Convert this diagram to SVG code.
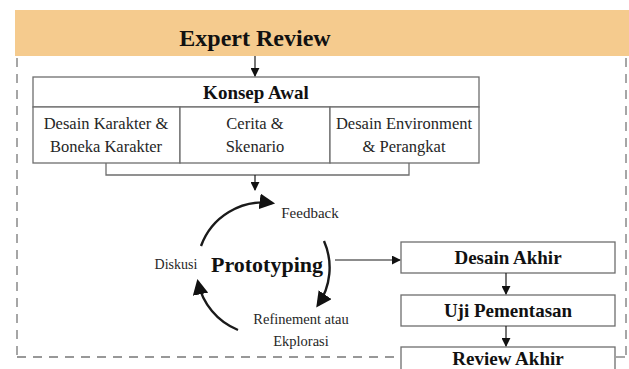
<svg xmlns="http://www.w3.org/2000/svg" width="629" height="369" viewBox="0 0 629 369">
<defs>
<style>
.box{fill:#fff;stroke:#6e6e6e;stroke-width:1.3}
.ln{fill:none;stroke:#1a1a1a;stroke-width:1.2}
.gl{fill:none;stroke:#6e6e6e;stroke-width:1.3}
.arc{fill:none;stroke:#1a1a1a;stroke-width:2.4}
.dash{fill:none;stroke:#777;stroke-width:1.3;stroke-dasharray:9 7}
.t{font-family:"Liberation Serif","Times New Roman",serif;fill:#262626;text-anchor:middle}
.b{font-weight:bold;fill:#111}
</style>
<marker id="ah" viewBox="0 0 10 10" refX="9" refY="5" markerWidth="9" markerHeight="9" markerUnits="userSpaceOnUse" orient="auto">
<path d="M0,0 L10,5 L0,10 Z" fill="#111"/>
</marker>
<marker id="ah2" viewBox="0 0 10 10" refX="8" refY="5" markerWidth="6.5" markerHeight="6.5" orient="auto">
<path d="M0,0 L10,5 L0,10 Z" fill="#111"/>
</marker>
</defs>

<g id="frame">
<rect x="15" y="10" width="614" height="46" fill="#F5CB8E"/>
<path class="dash" d="M17,58 V357"/>
<path class="dash" d="M626,58 V357"/>
<path class="dash" d="M17,357 H400"/>
<path class="dash" d="M616,357 H626"/>
</g>

<g id="expert-review">
<text class="t b" x="255" y="46" font-size="24">Expert Review</text>
</g>

<g id="konsep-awal">
<rect class="box" x="33" y="77" width="446" height="30"/>
<text class="t b" x="256" y="99" font-size="19">Konsep Awal</text>
</g>

<g id="desain-karakter">
<rect class="box" x="33" y="107" width="147" height="56"/>
<text class="t" x="106" y="129" font-size="16.5">Desain Karakter &amp;</text>
<text class="t" x="106" y="152" font-size="16.5">Boneka Karakter</text>
</g>

<g id="cerita">
<rect class="box" x="180" y="107" width="150" height="56"/>
<text class="t" x="255" y="129" font-size="16.5">Cerita &amp;</text>
<text class="t" x="255" y="152" font-size="16.5">Skenario</text>
</g>

<g id="desain-environment">
<rect class="box" x="330" y="107" width="149" height="56"/>
<text class="t" x="404" y="129" font-size="16.5">Desain Environment</text>
<text class="t" x="404" y="152" font-size="16.5">&amp; Perangkat</text>
</g>

<g id="prototyping">
<text class="t b" x="267" y="272" font-size="22">Prototyping</text>
</g>
<g id="feedback"><text class="t" x="310" y="218" font-size="15">Feedback</text></g>
<g id="diskusi"><text class="t" x="176" y="269" font-size="14">Diskusi</text></g>
<g id="refinement">
<text class="t" x="301" y="324" font-size="14.5">Refinement atau</text>
<text class="t" x="301" y="346" font-size="14.5">Ekplorasi</text>
</g>

<g id="desain-akhir">
<rect class="box" x="401" y="242" width="214" height="31"/>
<text class="t b" x="508" y="264" font-size="19">Desain Akhir</text>
</g>
<g id="uji-pementasan">
<rect class="box" x="401" y="295" width="214" height="31"/>
<text class="t b" x="508" y="317" font-size="19">Uji Pementasan</text>
</g>
<g id="review-akhir">
<rect class="box" x="401" y="347" width="214" height="40"/>
<text class="t b" x="508" y="365" font-size="19">Review Akhir</text>
</g>

<g id="connectors">
<path class="ln" d="M255,56 V76" marker-end="url(#ah)"/>
<path class="gl" d="M106,163 V175 H409 V163"/>
<path class="ln" d="M255,175 V190" marker-end="url(#ah)"/>
<path class="arc" d="M201,246 A66,66 0 0 1 272,203" marker-end="url(#ah2)"/>
<path class="arc" d="M324,241 A66,66 0 0 1 318,305" marker-end="url(#ah2)"/>
<path class="arc" d="M238,330 A66,66 0 0 1 198,282" marker-end="url(#ah2)"/>
<path class="ln" d="M335,260 H400" marker-end="url(#ah)"/>
<path class="ln" d="M506,273 V294" marker-end="url(#ah)"/>
<path class="ln" d="M506,326 V346" marker-end="url(#ah)"/>
</g>
</svg>
